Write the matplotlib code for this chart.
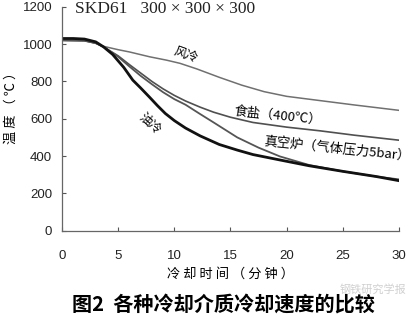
import matplotlib
matplotlib.use('Agg')
import matplotlib.pyplot as plt

plt.rcParams['font.family'] = ['Noto Sans CJK SC', 'DejaVu Sans']

# cooling curves, time in minutes, temperature in degC
t_air = [0, 2, 3, 3.7, 5, 6, 7.8, 9.3, 10.5, 12, 14, 16, 18, 20, 23, 26, 30]
T_air = [1022, 1020, 1005, 988, 970, 958, 932, 914, 897, 867, 822, 780, 745, 720, 697, 674, 645]

t_salt = [0, 2, 3, 3.7, 5, 6, 7, 8, 9, 10, 11, 12.3, 13.5, 15, 17, 20, 23, 26, 30]
T_salt = [1020, 1018, 1005, 985, 937, 890, 845, 800, 760, 725, 695, 662, 635, 608, 580, 555, 535, 512, 485]

t_vac = [0, 2, 3, 3.7, 5, 6, 7, 8, 9, 10, 11, 12.3, 13.5, 15.6, 17.5, 19.4, 22, 25, 28, 30]
T_vac = [1020, 1018, 1005, 985, 932, 880, 830, 785, 742, 705, 675, 625, 580, 500, 445, 398, 352, 318, 290, 275]

t_oil = [0, 1, 2, 3, 3.7, 4.5, 5.5, 6.3, 7, 7.8, 8.5, 9.2, 10, 11, 12.3, 14, 15.6, 17, 19.4, 22, 25, 28, 30]
T_oil = [1030, 1030, 1027, 1012, 985, 945, 875, 807, 765, 715, 670, 628, 590, 550, 508, 462, 432, 408, 379, 348, 318, 290, 268]

xticks = [0, 5, 10, 15, 20, 25, 30]
yticks = [0, 200, 400, 600, 800, 1000, 1200]

fig = plt.figure(figsize=(4.17, 3.23), dpi=100)
ax = fig.add_axes([0.1487, 0.2858, 0.8081, 0.6932])

ax.plot(t_air, T_air, color='#707070', lw=1.1)
ax.plot(t_salt, T_salt, color='#505050', lw=1.2)
ax.plot(t_vac, T_vac, color='#555555', lw=1.3)
ax.plot(t_oil, T_oil, color='#111111', lw=2.0)

ax.set_xlim(0, 30)
ax.set_ylim(0, 1200)
ax.set_xticks(xticks)
ax.set_yticks(yticks)
for s in ['top', 'right']:
    ax.spines[s].set_visible(False)
for s in ['left', 'bottom']:
    ax.spines[s].set_color('#666666')
    ax.spines[s].set_linewidth(0.9)
ax.tick_params(direction='in', length=3, color='#555555', labelsize=9.5)
ax.tick_params(axis='x', pad=14)
ax.tick_params(axis='y', pad=7)
for lab in ax.get_xticklabels() + ax.get_yticklabels():
    lab.set_family('Liberation Sans')
    lab.set_color('#222222')

ax.set_xlabel('冷 却 时 间 （ 分 钟 ）', fontsize=9.5, labelpad=4)
ax.set_ylabel('温 度 （ ℃ ）', fontsize=9.5)
ax.yaxis.set_label_coords(-0.13, 0.56)

ax.text(1.2, 1188, 'SKD61   300 × 300 × 300', family='Liberation Serif',
        fontsize=12.5, va='center', ha='left', color='#222222')

ax.text(11.0, 940, '风冷', fontsize=9, rotation=-20, ha='center', va='center')
ax.text(7.8, 572, '油冷', fontsize=9, rotation=-42, ha='center', va='center')
ax.text(19.2, 616, '食盐（400℃）', fontsize=9.5, rotation=-6, ha='center', va='center',
        family=['Noto Sans CJK SC', 'DejaVu Sans'])
ax.text(24.5, 432, '真空炉（气体压力5bar）', fontsize=9.5, rotation=-6, ha='center', va='center',
        family=['Noto Sans CJK SC', 'DejaVu Sans'])

fig.text(0.537, 0.060, '图2  各种冷却介质冷却速度的比较', fontsize=14.5, fontweight='bold',
         ha='center', va='center')
fig.text(0.975, 0.105, '钢铁研究学报', fontsize=8, color='#d0d0d0', ha='right', va='center')

fig.savefig('out.png', dpi=100)
